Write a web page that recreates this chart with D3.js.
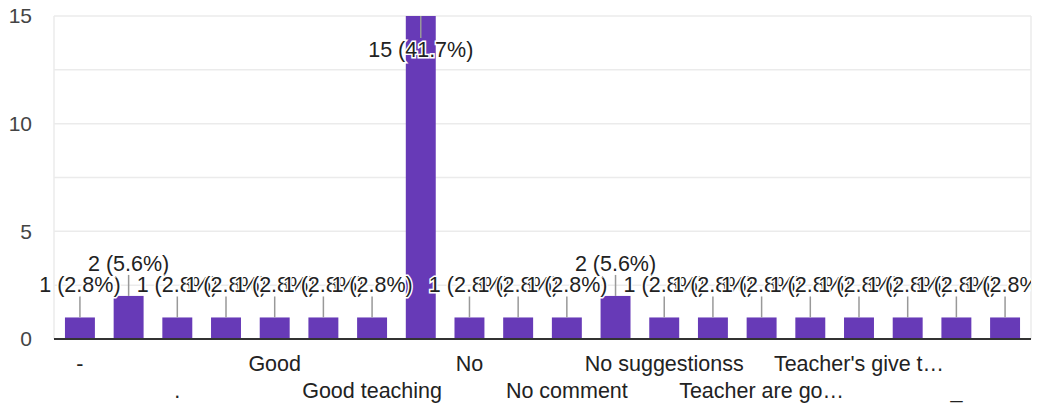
<!DOCTYPE html>
<html>
<head>
<meta charset="utf-8">
<script src="https://cdn.jsdelivr.net/npm/d3@7"></script>
<style>
  body { margin: 0; background: #fff; }
  svg { font-family: "Liberation Sans", Arial, sans-serif; }
</style>
</head>
<body>
<svg id="chart" width="1040" height="410"></svg>
<script>
// answers (only every other one gets an axis label, like the original)
const categories = ["-", "--", ".", "Excellent", "Good", "Good job", "Good teaching", "Nil",
  "No", "No.", "No comment", "No suggestion", "No suggestionss", "Nothing",
  "Teacher are go…", "Teacher good", "Teacher's give t…", "Very good", "_", "good"];
const counts = [1, 2, 1, 1, 1, 1, 1, 15, 1, 1, 1, 2, 1, 1, 1, 1, 1, 1, 1, 1];
const yTickValues = [0, 5, 10, 15];
const gridValues = [0, 2.5, 5, 7.5, 10, 12.5, 15];

const total = d3.sum(counts);
const plotLeft = 54, plotRight = 1031, plotTop = 16, plotBottom = 339;

const svg = d3.select("#chart");

// annotations get clipped at the right edge of the plot, like the original
svg.append("defs")
    .append("clipPath")
    .attr("id", "plotClip")
    .append("rect")
    .attr("x", 0)
    .attr("y", 0)
    .attr("width", plotRight)
    .attr("height", plotBottom);

const x = d3.scaleBand()
    .domain(d3.range(categories.length))
    .range([plotLeft, plotRight])
    .paddingInner(0.385)
    .paddingOuter(0.225);

const y = d3.scaleLinear().domain([0, 15]).range([plotBottom, plotTop]);

// gridlines
svg.append("g")
    .selectAll("line")
    .data(gridValues)
    .enter()
    .append("line")
    .attr("x1", plotLeft)
    .attr("x2", plotRight)
    .attr("y1", (d) => y(d))
    .attr("y2", (d) => y(d))
    .attr("stroke", "#ebebeb")
    .attr("stroke-width", 1.5);

// side borders of plot area
svg.append("g")
    .selectAll("line")
    .data([plotLeft, plotRight])
    .enter()
    .append("line")
    .attr("x1", (d) => d)
    .attr("x2", (d) => d)
    .attr("y1", y(15))
    .attr("y2", y(0))
    .attr("stroke", "#ebebeb")
    .attr("stroke-width", 1.5);

// y axis
const yAxis = svg.append("g")
    .attr("transform", `translate(${plotLeft},0)`)
    .call(d3.axisLeft(y).tickValues(yTickValues).tickSize(0).tickPadding(22));
yAxis.select(".domain").remove();
yAxis.selectAll("text")
    .attr("font-size", 21)
    .attr("font-family", "Liberation Sans, Arial, sans-serif")
    .attr("fill", "#444");

// bars
svg.append("g")
    .selectAll("rect")
    .data(counts)
    .enter()
    .append("rect")
    .attr("x", (d, i) => x(i))
    .attr("y", (d) => y(d))
    .attr("width", x.bandwidth())
    .attr("height", (d) => y(0) - y(d))
    .attr("fill", "#673ab7");

// baseline
svg.append("line")
    .attr("x1", plotLeft)
    .attr("x2", plotRight)
    .attr("y1", y(0))
    .attr("y2", y(0))
    .attr("stroke", "#333")
    .attr("stroke-width", 2);

// x axis labels, every second category, on two staggered rows
const xAxis = svg.append("g")
    .attr("transform", `translate(0,${y(0)})`)
    .call(d3.axisBottom(x).tickSize(0).tickFormat((i) => (i % 2 === 0 ? categories[i] : "")));
xAxis.select(".domain").remove();
xAxis.selectAll("text")
    .attr("font-size", 21.5)
    .attr("font-family", "Liberation Sans, Arial, sans-serif")
    .attr("fill", "#222")
    .attr("dy", null)
    .attr("y", (i) => (i % 4 === 0 ? 32 : 59));

// annotations: stem + label
const ann = svg.append("g").attr("clip-path", "url(#plotClip)");
counts.forEach((v, i) => {
    const cx = x(i) + x.bandwidth() / 2;
    const inside = v === 15;
    const barTop = y(v);
    const stemEnd = inside ? barTop + 22 : barTop - 21;
    const baseY = inside ? barTop + 41 : barTop - 25;
    const label = `${v} (${((v / total) * 100).toFixed(1)}%)`;

    ann.append("line")
        .attr("x1", cx)
        .attr("x2", cx)
        .attr("y1", barTop)
        .attr("y2", stemEnd)
        .attr("stroke", "#999")
        .attr("stroke-width", 1.5);

    ann.append("text")
        .attr("x", cx)
        .attr("y", baseY)
        .attr("text-anchor", "middle")
        .attr("font-size", 21.5)
        .attr("fill", "#222")
        .attr("stroke", "#fff")
        .attr("stroke-width", 3)
        .attr("paint-order", "stroke")
        .text(label);
});
</script>
</body>
</html>
